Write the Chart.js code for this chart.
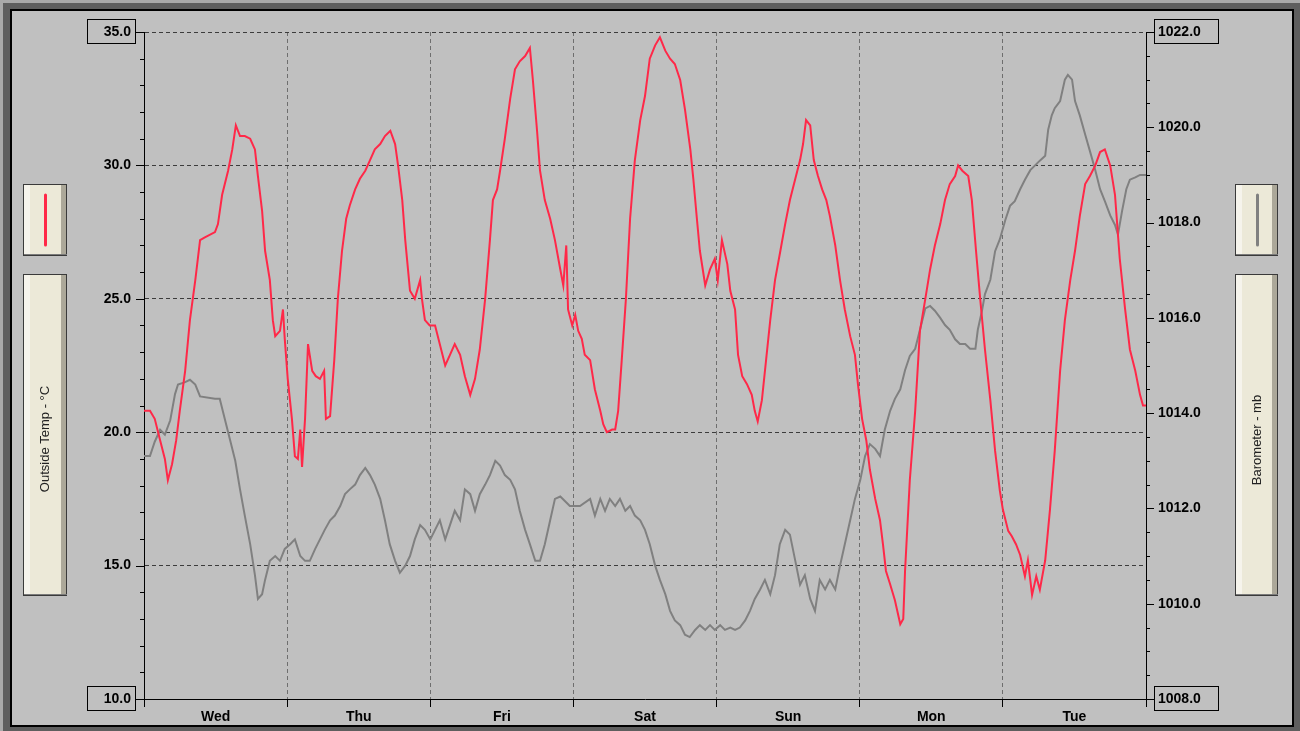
<!DOCTYPE html>
<html>
<head>
<meta charset="utf-8">
<script src="https://cdn.jsdelivr.net/npm/chart.js@4/dist/chart.umd.min.js"></script>
<style>
html,body{margin:0;padding:0;background:#c0c0c0;overflow:hidden}
canvas{display:block}
</style>
</head>
<body>
<canvas id="c" width="1300" height="731"></canvas>
<script>
// Week of weather-station readings, x = hours since Wednesday 00:00
const dayLabels = ['Wed', 'Thu', 'Fri', 'Sat', 'Sun', 'Mon', 'Tue'];

const tempHours = [
  0,1.0,1.8,2.7,3.5,4.0,4.7,5.4,6.0,6.9,
  7.7,8.6,9.4,10.2,11.9,12.4,13.1,14.1,14.8,15.4,
  16.1,16.9,17.8,18.6,19.1,19.8,20.3,21.1,21.6,22.0,
  22.8,23.3,23.6,24.1,24.8,25.3,25.8,26.2,26.5,27.0,
  27.5,28.2,28.8,29.5,30.2,30.5,31.2,31.9,32.5,33.2,
  33.9,34.5,35.4,36.2,37.1,37.9,38.7,39.6,40.4,41.3,
  42.1,42.6,43.3,43.8,44.6,45.4,46.3,46.6,47.1,47.9,
  48.8,49.6,50.5,51.3,52.1,53.0,53.8,54.7,55.5,56.3,
  57.2,58.0,58.5,59.2,59.7,60.5,61.4,62.2,63.0,63.9,
  64.7,65.2,65.9,66.4,67.2,68.1,68.9,69.8,70.3,70.8,
  71.1,71.8,72.3,72.8,73.4,73.9,74.8,75.6,76.5,77.0,
  77.6,78.5,79.0,79.5,80.1,80.8,81.5,82.3,83.2,84.0,
  84.8,85.7,86.5,87.4,88.2,89.0,89.9,90.7,91.6,92.1,
  92.7,93.2,94.1,94.9,95.7,96.2,96.9,97.8,98.3,99.1,
  99.6,100.3,101.1,101.9,102.4,102.9,103.6,104.3,105.0,105.8,
  106.7,107.5,108.3,109.2,110.0,110.5,111.0,111.7,112.3,113.0,
  113.7,114.4,115.0,115.9,116.7,117.5,118.4,119.2,119.7,120.4,
  121.1,121.7,122.6,123.4,123.9,124.4,125.1,125.9,126.8,127.3,
  127.6,128.4,129.3,130.1,131.0,131.8,132.6,133.5,134.3,135.1,
  136.0,136.5,137.2,138.2,138.8,139.5,140.2,141.0,141.9,142.7,
  143.5,144.0,144.9,145.5,146.2,146.9,147.7,148.2,148.9,149.6,
  150.2,151.1,151.9,152.7,153.6,154.4,155.3,156.1,156.9,157.8,
  158.6,159.5,160.3,161.1,162.0,162.8,163.6,164.5,165.3,166.2,
  167.0,167.5,168.0
];
const tempValues = [
  20.8,20.8,20.5,19.7,19.0,18.2,18.8,19.7,20.8,22.3,
  24.2,25.7,27.2,27.3,27.5,27.8,28.9,29.8,30.6,31.5,
  31.1,31.1,31.0,30.6,29.6,28.3,26.8,25.7,24.2,23.6,
  23.8,24.6,23.5,22.0,20.5,19.1,19.0,20.1,18.7,20.5,
  23.3,22.3,22.1,22.0,22.3,20.5,20.6,22.7,25.0,26.8,
  28.0,28.5,29.1,29.5,29.8,30.2,30.6,30.8,31.1,31.3,
  30.8,30.0,28.7,27.2,25.3,25.0,25.7,25.0,24.2,24.0,
  24.0,23.3,22.5,22.9,23.3,22.9,22.1,21.4,22.0,23.1,
  25.0,27.2,28.7,29.1,29.8,31.0,32.5,33.6,33.9,34.1,
  34.4,33.2,31.3,29.8,28.7,28.0,27.2,26.1,25.5,27.0,
  24.6,24.0,24.4,23.8,23.5,22.9,22.7,21.6,20.8,20.3,
  20.0,20.1,20.1,20.8,22.7,25.0,28.0,30.2,31.7,32.6,
  34.0,34.5,34.8,34.3,34.0,33.8,33.2,32.1,30.6,29.5,
  28.0,26.8,25.5,26.1,26.5,25.7,27.2,26.3,25.3,24.6,
  22.9,22.1,21.8,21.4,20.8,20.4,21.2,22.7,24.2,25.7,
  26.8,27.8,28.7,29.5,30.2,30.8,31.7,31.5,30.2,29.6,
  29.1,28.7,28.1,27.0,25.7,24.6,23.6,22.9,21.8,20.5,
  19.7,18.6,17.5,16.7,15.8,14.8,14.3,13.7,12.8,13.0,
  14.8,18.2,20.8,23.8,25.0,26.1,27.0,27.8,28.7,29.3,
  29.6,30.0,29.8,29.6,28.7,26.8,25.0,23.1,21.2,19.3,
  17.8,17.1,16.3,16.1,15.8,15.4,14.6,15.2,13.9,14.6,
  14.1,15.2,17.1,19.3,22.3,24.2,25.7,26.8,28.1,29.3,
  29.6,30.0,30.5,30.6,30.0,28.9,26.5,24.6,23.1,22.3,
  21.4,21.0,21.0
];

const baroHours = [
  0,1.0,1.8,2.7,3.5,4.4,5.2,5.7,6.9,7.7,
  8.6,9.4,11.9,12.7,13.6,14.4,15.3,16.1,16.9,17.8,
  18.6,19.1,19.8,20.3,21.1,22.0,22.8,23.6,24.5,25.3,
  26.2,27.0,27.8,28.7,29.5,30.3,31.2,32.0,32.9,33.7,
  34.5,35.4,36.2,37.1,37.9,38.7,39.6,40.4,41.2,42.1,
  42.9,43.8,44.6,45.4,46.3,47.1,48.0,48.8,49.6,50.5,
  51.3,52.1,53.0,53.8,54.7,55.5,56.3,57.2,58.0,58.9,
  59.7,60.5,61.4,62.2,63.0,63.9,64.7,65.6,66.4,67.2,
  68.1,68.9,69.8,71.4,73.1,74.8,75.6,76.5,77.3,78.1,
  79.0,79.8,80.7,81.5,82.3,83.2,84.0,84.8,85.7,86.5,
  87.4,88.2,89.0,89.9,90.7,91.5,92.4,93.2,94.1,94.9,
  95.7,96.6,97.4,98.3,99.1,99.9,100.8,101.6,102.4,103.3,
  104.1,105.0,105.8,106.6,107.5,108.3,109.2,110.0,110.8,111.7,
  112.5,113.3,114.2,115.0,115.9,116.7,117.5,118.4,119.2,120.1,
  120.9,121.7,122.6,123.4,124.2,125.1,125.9,126.8,127.6,128.4,
  129.3,130.1,131.0,131.8,132.6,133.5,134.3,135.1,136.0,136.8,
  137.7,138.5,139.4,139.8,140.5,141.0,141.9,142.7,143.5,144.4,
  145.2,146.0,146.9,147.7,148.6,149.4,150.2,151.1,151.6,152.2,
  152.7,153.6,154.4,154.9,155.6,156.1,156.9,157.8,158.6,159.5,
  160.3,161.1,162.0,162.8,163.3,164.0,164.7,165.3,166.2,167.0,
  168.0
];
const baroValues = [
  1013.1,1013.1,1013.4,1013.65,1013.55,1013.85,1014.4,1014.6,1014.65,1014.7,
  1014.6,1014.35,1014.3,1014.3,1013.85,1013.45,1013.0,1012.4,1011.85,1011.25,
  1010.6,1010.1,1010.2,1010.5,1010.9,1011.0,1010.9,1011.15,1011.25,1011.35,
  1011.0,1010.9,1010.9,1011.15,1011.35,1011.55,1011.75,1011.85,1012.05,1012.3,
  1012.4,1012.5,1012.7,1012.85,1012.7,1012.5,1012.2,1011.75,1011.25,1010.9,
  1010.65,1010.8,1011.0,1011.35,1011.65,1011.55,1011.35,1011.55,1011.75,1011.35,
  1011.65,1011.95,1011.75,1012.4,1012.3,1011.95,1012.3,1012.5,1012.7,1013.0,
  1012.9,1012.7,1012.6,1012.4,1011.95,1011.55,1011.25,1010.9,1010.9,1011.25,
  1011.75,1012.2,1012.25,1012.05,1012.05,1012.2,1011.85,1012.2,1011.95,1012.2,
  1012.05,1012.2,1011.95,1012.05,1011.85,1011.75,1011.55,1011.25,1010.8,1010.5,
  1010.2,1009.85,1009.65,1009.55,1009.35,1009.3,1009.45,1009.55,1009.45,1009.55,
  1009.45,1009.55,1009.45,1009.5,1009.45,1009.5,1009.65,1009.85,1010.1,1010.3,
  1010.5,1010.2,1010.6,1011.25,1011.55,1011.45,1010.9,1010.4,1010.6,1010.1,
  1009.85,1010.5,1010.3,1010.5,1010.3,1010.8,1011.25,1011.75,1012.2,1012.6,
  1013.1,1013.35,1013.25,1013.1,1013.65,1014.05,1014.3,1014.5,1014.9,1015.2,
  1015.35,1015.75,1016.2,1016.25,1016.15,1016.0,1015.85,1015.75,1015.55,1015.45,
  1015.45,1015.35,1015.35,1015.75,1016.15,1016.5,1016.8,1017.4,1017.65,1018.05,
  1018.35,1018.45,1018.7,1018.9,1019.1,1019.2,1019.3,1019.4,1019.95,1020.25,
  1020.4,1020.55,1021.0,1021.1,1021.0,1020.55,1020.25,1019.85,1019.5,1019.1,
  1018.7,1018.45,1018.15,1017.95,1017.75,1018.25,1018.7,1018.9,1018.95,1019.0,
  1019.0
];

const tempRange = [10, 35];
const baroRange = [1008, 1022];
const tempTitle = 'Outside Temp - °C';
const baroTitle = 'Barometer - mb';

const TEMP_COLOR = '#ff2848';
const BARO_COLOR = '#808080';
const TICK_FONT = { family: '"Liberation Sans", Arial, sans-serif', size: 14, weight: 'bold' };

function toPoints(xs, ys) { return xs.map((x, i) => ({ x: x, y: ys[i] })); }

// Raised beige legend panel
function drawPanel(ctx, x, y, w, h) {
  ctx.fillStyle = '#ece9d8';
  ctx.fillRect(x, y, w, h);
  ctx.fillStyle = '#f6f4ec';
  ctx.fillRect(x + 1, y + 1, 6, h - 2);
  ctx.fillStyle = '#aca899';
  ctx.fillRect(x + w - 6, y + 1, 5, h - 2);
  ctx.strokeStyle = '#3a3a3a';
  ctx.lineWidth = 1;
  ctx.strokeRect(x + 0.5, y + 0.5, w - 1, h - 1);
  ctx.fillStyle = '#7a7a7a';
  ctx.fillRect(x + 1, y + h - 2, w - 1, 1);
}

function drawSwatch(ctx, cx, y1, y2, color) {
  ctx.strokeStyle = color;
  ctx.lineWidth = 3;
  ctx.lineCap = 'round';
  ctx.beginPath();
  ctx.moveTo(cx, y1);
  ctx.lineTo(cx, y2);
  ctx.stroke();
  ctx.lineCap = 'butt';
}

function drawVerticalTitle(ctx, text, cx, cy) {
  ctx.save();
  ctx.translate(cx, cy);
  ctx.rotate(-Math.PI / 2);
  ctx.fillStyle = '#222';
  ctx.font = '13px "Liberation Sans", Arial, sans-serif';
  ctx.textAlign = 'center';
  ctx.textBaseline = 'middle';
  ctx.fillText(text, 0, 0);
  ctx.restore();
}

const framePlugin = {
  id: 'stationFrame',
  beforeDraw(chart) {
    const ctx = chart.ctx;
    const W = chart.width, H = chart.height;
    ctx.save();
    ctx.fillStyle = '#5e5e5e';
    ctx.fillRect(0, 0, W, H);
    ctx.fillStyle = '#a9a9a9';
    ctx.fillRect(0, 0, W, 3);
    ctx.fillRect(0, 0, 3, H);
    ctx.fillStyle = '#000';
    ctx.fillRect(10, 9, 1284, 718);
    ctx.fillStyle = '#c0c0c0';
    ctx.fillRect(12, 11, 1280, 714);

    // legend panels
    drawPanel(ctx, 23, 184, 44, 72);
    drawSwatch(ctx, 45.5, 195, 245, TEMP_COLOR);
    drawPanel(ctx, 23, 274, 44, 322);
    drawVerticalTitle(ctx, tempTitle, 45, 439);

    drawPanel(ctx, 1235, 184, 43, 72);
    drawSwatch(ctx, 1257.5, 195, 245, BARO_COLOR);
    drawPanel(ctx, 1235, 274, 43, 322);
    drawVerticalTitle(ctx, baroTitle, 1257, 440);
    ctx.restore();
  },
  afterDraw(chart) {
    const ctx = chart.ctx;
    const yL = chart.scales.y, yR = chart.scales.y2;
    const area = chart.chartArea;
    ctx.save();
    ctx.strokeStyle = '#000';
    ctx.lineWidth = 1;
    ctx.beginPath();
    // temperature axis ticks: 1 °C minor, 5 °C major
    for (let v = tempRange[0]; v <= tempRange[1]; v++) {
      const py = Math.round(yL.getPixelForValue(v)) + 0.5;
      const len = v % 5 === 0 ? 8 : 4;
      ctx.moveTo(area.left - len, py);
      ctx.lineTo(area.left, py);
    }
    // pressure axis ticks: 0.5 mb minor, 2 mb major
    for (let v = baroRange[0]; v <= baroRange[1]; v += 0.5) {
      const py = Math.round(yR.getPixelForValue(v)) + 0.5;
      const len = v % 2 === 0 ? 8 : 4;
      ctx.moveTo(area.right, py);
      ctx.lineTo(area.right + len, py);
    }
    ctx.stroke();

    // boxed end labels
    const boxes = [
      [yL, tempRange[1], area.left - 57, 48],
      [yL, tempRange[0], area.left - 57, 48],
      [yR, baroRange[1], area.right + 8, 64],
      [yR, baroRange[0], area.right + 8, 64]
    ];
    boxes.forEach(([scale, v, x, w]) => {
      const py = Math.round(scale.getPixelForValue(v));
      ctx.strokeRect(x + 0.5, py - 12.5, w, 24);
    });
    ctx.restore();
  }
};

new Chart(document.getElementById('c'), {
  type: 'line',
  data: {
    datasets: [
      {
        label: tempTitle,
        data: toPoints(tempHours, tempValues),
        yAxisID: 'y',
        borderColor: TEMP_COLOR,
        borderWidth: 2,
        pointRadius: 0,
        tension: 0,
        fill: false,
        order: 0
      },
      {
        label: baroTitle,
        data: toPoints(baroHours, baroValues),
        yAxisID: 'y2',
        borderColor: BARO_COLOR,
        borderWidth: 2,
        pointRadius: 0,
        tension: 0,
        fill: false,
        order: 1
      }
    ]
  },
  options: {
    responsive: false,
    devicePixelRatio: 1,
    animation: false,
    events: [],
    layout: { padding: { top: 32, left: 0, right: 0, bottom: 0 } },
    plugins: { legend: { display: false }, tooltip: { enabled: false } },
    scales: {
      x: {
        type: 'linear',
        position: 'bottom',
        min: 0,
        max: 168,
        afterFit(s) { s.height = 32; },
        ticks: {
          stepSize: 12,
          autoSkip: false,
          maxRotation: 0,
          padding: 2,
          color: '#000',
          font: TICK_FONT,
          callback(v) { return v % 24 === 12 ? dayLabels[(v - 12) / 24] : ''; }
        },
        grid: {
          color: c => (c.tick && c.tick.value % 24 === 0 && c.tick.value > 0 && c.tick.value < 168) ? '#6e6e6e' : 'rgba(0,0,0,0)',
          lineWidth: 1,
          tickLength: 8,
          tickWidth: 1,
          tickColor: c => (c.tick && c.tick.value % 24 === 0) ? '#000' : 'rgba(0,0,0,0)'
        },
        border: { display: true, color: '#000', width: 1, dash: [4, 3] }
      },
      y: {
        position: 'left',
        min: tempRange[0],
        max: tempRange[1],
        afterFit(s) { s.width = 144; },
        ticks: {
          stepSize: 1,
          autoSkip: false,
          padding: 5,
          color: '#000',
          font: TICK_FONT,
          callback(v) { return v % 5 === 0 ? v.toFixed(1) : ''; }
        },
        grid: {
          color: c => (c.tick && c.tick.value % 5 === 0 && c.tick.value > tempRange[0]) ? '#3c3c3c' : 'rgba(0,0,0,0)',
          lineWidth: 1,
          tickLength: 8,
          tickColor: 'rgba(0,0,0,0)'
        },
        border: { display: true, color: '#000', width: 1, dash: [4, 3] }
      },
      y2: {
        position: 'right',
        min: baroRange[0],
        max: baroRange[1],
        afterFit(s) { s.width = 154; },
        ticks: {
          stepSize: 0.5,
          autoSkip: false,
          padding: 4,
          color: '#000',
          font: TICK_FONT,
          callback(v) { return v % 2 === 0 ? v.toFixed(1) : ''; }
        },
        grid: {
          drawOnChartArea: false,
          tickLength: 8,
          tickColor: 'rgba(0,0,0,0)'
        },
        border: { display: true, color: '#000', width: 1 }
      }
    }
  },
  plugins: [framePlugin]
});
</script>
</body>
</html>
